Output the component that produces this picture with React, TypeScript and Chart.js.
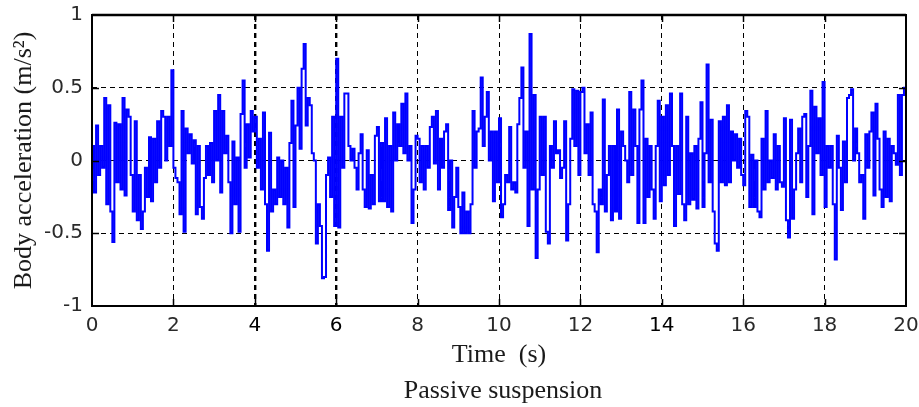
import React, { useEffect, useRef } from "react";
import { Chart, registerables } from "chart.js";

Chart.register(...registerables);

// ---- data (body acceleration, m/s^2), sampled every SAMPLE_STEP seconds ----
const SAMPLE_STEP = 0.05;

const accel_00_02 = [
  0.1, -0.22, 0.24, -0.1, 0.1, -0.05, 0.43, -0.3, 0.38, -0.35,
  -0.56, 0.26, -0.15, 0.25, -0.2, 0.43, -0.24, 0.35, 0.3, -0.1,
  -0.35, 0.27, -0.41, -0.1, -0.47, -0.35, -0.05, -0.25, 0.16, -0.28,
  0.15, -0.15, 0.27, -0.05, 0.34, 0.3, 0.0, 0.3, 0.1, 0.62,
];
const accel_02_04 = [
  -0.05, -0.12, -0.15, -0.37, 0.34, -0.49, 0.22, 0.05, 0.18, -0.02,
  0.14, -0.37, 0.1, -0.32, -0.4, -0.12, 0.1, -0.1, 0.12, -0.15,
  0.34, 0.0, 0.45, -0.22, 0.34, 0.05, 0.17, -0.15, -0.5, 0.13,
  -0.3, 0.02, -0.49, 0.32, 0.55, -0.05, 0.25, 0.02, 0.34, 0.2,
];
const accel_04_06 = [
  0.3, -0.05, 0.15, -0.2, 0.33, -0.3, -0.62, 0.19, -0.35, -0.2,
  -0.3, 0.02, -0.25, 0.0, -0.3, -0.05, -0.46, 0.12, 0.41, -0.32,
  0.24, 0.5, 0.08, 0.63, 0.8, 0.24, 0.43, 0.38, 0.05, 0.0,
  -0.57, -0.3, -0.45, -0.81, -0.8, -0.1, 0.02, -0.25, 0.3, -0.45,
];
const accel_06_08 = [
  0.7, -0.46, 0.3, -0.05, 0.46, 0.46, 0.1, 0.0, 0.08, -0.05,
  -0.2, 0.05, 0.18, -0.2, -0.32, 0.07, -0.33, -0.1, -0.3, 0.17,
  0.23, -0.28, 0.12, -0.28, 0.29, -0.32, 0.1, -0.35, 0.33, 0.0,
  0.25, 0.1, 0.39, 0.05, 0.46, 0.0, 0.1, -0.43, -0.2, 0.17,
];
const accel_08_10 = [
  0.15, -0.15, 0.1, -0.2, 0.1, -0.05, 0.23, 0.3, -0.02, 0.34,
  -0.2, 0.15, -0.05, 0.2, 0.25, -0.34, 0.0, -0.46, -0.25, -0.05,
  -0.32, -0.5, -0.22, -0.5, -0.35, -0.5, -0.3, 0.34, -0.05, 0.2,
  0.22, 0.57, 0.1, 0.3, 0.47, 0.0, 0.2, -0.28, 0.2, -0.15,
];
const accel_10_12 = [
  0.29, -0.39, -0.3, -0.1, -0.15, 0.23, -0.2, -0.15, -0.22, 0.25,
  0.43, 0.64, -0.05, 0.2, -0.45, 0.87, -0.2, 0.45, -0.67, -0.2,
  0.3, -0.1, 0.3, -0.49, -0.57, 0.1, -0.05, 0.27, 0.05, 0.07,
  -0.12, -0.05, 0.27, -0.55, -0.3, 0.15, 0.49, 0.1, 0.48, -0.1,
];
const accel_12_14 = [
  0.47, 0.5, 0.05, 0.25, -0.1, 0.33, -0.3, -0.35, -0.63, -0.2,
  -0.3, 0.42, -0.35, -0.1, 0.1, -0.41, 0.1, -0.35, 0.35, -0.4,
  0.2, 0.1, 0.0, -0.15, 0.47, -0.1, 0.35, 0.1, -0.43, 0.35,
  0.55, -0.43, 0.15, -0.25, 0.1, -0.2, -0.4, 0.1, 0.41, -0.28,
];
const accel_14_16 = [
  0.3, -0.17, 0.38, -0.1, 0.46, 0.1, -0.45, 0.1, -0.23, 0.46,
  -0.3, -0.41, 0.3, -0.3, 0.05, -0.27, 0.1, -0.33, 0.15, 0.4,
  -0.32, 0.05, 0.66, -0.15, 0.28, -0.35, -0.57, -0.62, 0.27, -0.15,
  0.3, -0.17, 0.38, -0.15, 0.2, 0.0, 0.18, -0.05, 0.15, -0.1,
];
const accel_16_18 = [
  -0.17, 0.34, 0.3, -0.32, 0.04, -0.32, 0.0, -0.35, -0.39, 0.15,
  -0.2, 0.34, -0.15, 0.0, -0.12, 0.18, -0.2, 0.1, -0.15, -0.18,
  0.29, -0.41, -0.53, 0.28, -0.4, -0.2, 0.05, 0.22, -0.15, 0.3,
  0.32, -0.25, 0.1, 0.48, -0.37, 0.37, 0.05, 0.29, -0.1, 0.54,
];
const accel_18_20 = [
  -0.32, 0.1, -0.05, 0.1, -0.3, -0.68, 0.17, -0.05, -0.34, 0.13,
  -0.15, 0.43, 0.45, 0.49, 0.0, 0.22, 0.05, -0.15, -0.1, -0.4,
  0.18, -0.05, 0.2, 0.33, -0.24, 0.39, 0.15, -0.2, -0.32, 0.2,
  -0.25, 0.15, -0.28, 0.1, 0.05, -0.03, 0.45, -0.1, 0.45, 0.5,
  -0.2,
];

const accelValues = [
  ...accel_00_02, ...accel_02_04, ...accel_04_06, ...accel_06_08, ...accel_08_10,
  ...accel_10_12, ...accel_12_14, ...accel_14_16, ...accel_16_18, ...accel_18_20,
];

const xTickValues = [0, 2, 4, 6, 8, 10, 12, 14, 16, 18, 20];
const yTickValues = [-1, -0.5, 0, 0.5, 1];
const yTickLabels = ["-1", "-0.5", "0", "0.5", "1"];

const X_TITLE = "Time  (s)";
const Y_TITLE = "Body acceleration (m/s\u00B2)";
const CAPTION = "Passive suspension";

const SERIF = '"Liberation Serif", "Times New Roman", serif';
const SANS = '"DejaVu Sans", sans-serif';

const framePlugin = {
  id: "matlabFrame",
  afterDraw(chart: any) {
    const { ctx, chartArea } = chart;
    const { left, right, top, bottom } = chartArea;
    const xs = chart.scales.x;
    const ys = chart.scales.y;
    ctx.save();
    ctx.strokeStyle = "#000";
    ctx.lineWidth = 1.5;
    ctx.setLineDash([]);
    const tl = 7;
    ctx.beginPath();
    xTickValues.forEach((v) => {
      if (v === 0 || v === 20) return;
      const px = Math.round(xs.getPixelForValue(v)) + 0.5;
      ctx.moveTo(px, bottom);
      ctx.lineTo(px, bottom - tl);
      ctx.moveTo(px, top);
      ctx.lineTo(px, top + tl);
    });
    yTickValues.forEach((v) => {
      if (v === -1 || v === 1) return;
      const py = Math.round(ys.getPixelForValue(v)) + 0.5;
      ctx.moveTo(left, py);
      ctx.lineTo(left + tl, py);
      ctx.moveTo(right, py);
      ctx.lineTo(right - tl, py);
    });
    ctx.stroke();
    ctx.lineWidth = 2;
    ctx.strokeRect(left, top, right - left, bottom - top);
    ctx.lineWidth = 2.5;
    ctx.beginPath();
    ctx.moveTo(left, top);
    ctx.lineTo(right, top);
    ctx.stroke();
    // caption below the axis title
    ctx.fillStyle = "#1a1a1a";
    ctx.font = `26px ${SERIF}`;
    ctx.textAlign = "center";
    ctx.textBaseline = "middle";
    ctx.fillText(CAPTION, (left + right) / 2 + 4, 391);
    ctx.restore();
  },
};

export default function App() {
  const canvasRef = useRef<HTMLCanvasElement | null>(null);

  useEffect(() => {
    const canvas = canvasRef.current;
    if (!canvas) return;
    const points = accelValues.map((v, i) => ({ x: +(i * SAMPLE_STEP).toFixed(4), y: v }));

    const chart = new Chart(canvas, {
      type: "line",
      data: {
        datasets: [
          {
            data: points,
            borderColor: "#0000ff",
            borderWidth: 2,
            pointRadius: 0,
            stepped: true,
            fill: false,
            tension: 0,
          },
        ],
      },
      options: {
        responsive: false,
        animation: false,
        devicePixelRatio: 1,
        parsing: false as any,
        layout: { padding: { top: 15, right: 13, bottom: 0, left: 0 } },
        plugins: {
          legend: { display: false },
          tooltip: { enabled: false },
          title: { display: false },
        },
        scales: {
          x: {
            type: "linear",
            min: 0,
            max: 20,
            afterBuildTicks: (scale: any) => {
              scale.ticks = xTickValues.map((v) => ({ value: v }));
            },
            afterFit: (scale: any) => {
              scale.height = 101;
              scale.paddingLeft = 0;
              scale.paddingRight = 0;
            },
            ticks: {
              padding: 8,
              color: (ctx: any) => ([4, 6, 14].includes(ctx.tick?.value) ? "#000" : "#2a2a2a"),
              font: { family: SANS, size: 20 },
              maxRotation: 0,
              autoSkip: false,
              callback: (v: any) => String(v),
            },
            grid: {
              drawTicks: false,
              tickLength: 0,
              color: (ctx: any) =>
                ctx.tick && (ctx.tick.value === 0 || ctx.tick.value === 20) ? "rgba(0,0,0,0)" : "#000",
              lineWidth: (ctx: any) => (ctx.tick && (ctx.tick.value === 4 || ctx.tick.value === 6) ? 2.4 : 1),
            },
            border: { display: false, dash: [5, 4] },
            title: {
              display: true,
              text: X_TITLE,
              color: "#1a1a1a",
              font: { family: SERIF, size: 26 },
              padding: { top: 0, bottom: 36 },
            },
          },
          y: {
            type: "linear",
            min: -1,
            max: 1,
            afterBuildTicks: (scale: any) => {
              scale.ticks = yTickValues.map((v) => ({ value: v }));
            },
            afterFit: (scale: any) => {
              scale.width = 92;
              scale.paddingTop = 0;
              scale.paddingBottom = 0;
            },
            ticks: {
              padding: 9,
              color: "#2a2a2a",
              font: { family: SANS, size: 20 },
              autoSkip: false,
              callback: (v: any) => {
                const idx = yTickValues.indexOf(Number(v));
                return idx >= 0 ? yTickLabels[idx] : "";
              },
            },
            grid: {
              drawTicks: false,
              tickLength: 0,
              color: (ctx: any) =>
                ctx.tick && (ctx.tick.value === -1 || ctx.tick.value === 1) ? "rgba(0,0,0,0)" : "#000",
              lineWidth: 1,
            },
            border: { display: false, dash: [5, 4] },
            title: {
              display: true,
              text: Y_TITLE,
              color: "#1a1a1a",
              font: { family: SERIF, size: 26 },
              padding: { top: 9, bottom: 0 },
            },
          },
        },
      },
      plugins: [framePlugin],
    });

    return () => {
      chart.destroy();
    };
  }, []);

  return (
    <div style={{ position: "absolute", left: 0, top: 0, width: 919, height: 407, background: "#fff" }}>
      <canvas ref={canvasRef} width={919} height={407} style={{ display: "block", width: 919, height: 407 }} />
    </div>
  );
}
